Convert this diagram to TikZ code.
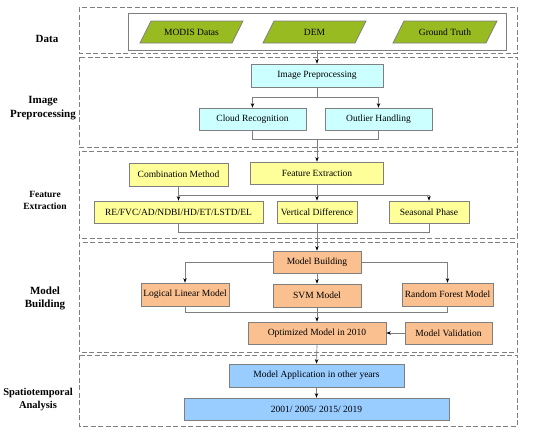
\documentclass[tikz,border=0pt]{standalone}
\usepackage{fontspec}
\setmainfont{Liberation Serif}
\usetikzlibrary{arrows.meta}
\definecolor{bgreen}{HTML}{99BB22}
\definecolor{bcyan}{HTML}{CCFFFF}
\definecolor{byellow}{HTML}{FFFF99}
\definecolor{borange}{HTML}{FAC090}
\definecolor{bblue}{HTML}{99CCFF}
\definecolor{lgray}{HTML}{7F7F7F}
\tikzset{
  box/.style={draw=lgray, line width=0.7pt, inner sep=0pt, font=\fontsize{9.5}{11}\selectfont, align=center},
  cyanbox/.style={box, fill=bcyan},
  yelbox/.style={box, fill=byellow},
  orbox/.style={box, fill=borange},
  bluebox/.style={box, fill=bblue},
  para/.style={draw=lgray, line width=0.7pt, fill=bgreen},
  ptext/.style={inner sep=0pt, font=\fontsize{9.5}{11}\selectfont},
  stage/.style={draw=lgray, line width=0.9pt, dash pattern=on 5pt off 2.5pt},
  lab/.style={font=\bfseries\fontsize{11}{13}\selectfont, align=center, inner sep=0pt},
  conn/.style={draw=lgray, line width=0.7pt},
  arr/.style={conn, -{Stealth[length=4.5pt,width=3.5pt,black]}}
}
\begin{document}
\begin{tikzpicture}[x=1pt,y=-1pt]
\useasboundingbox (0,0) rectangle (550,431);
% stage frames
\draw[stage] (79,7) rectangle (517,53);
\draw[stage] (79,57) rectangle (517,147);
\draw[stage] (79,151) rectangle (517,238);
\draw[stage] (79,242) rectangle (517,352);
\draw[stage] (79,355) rectangle (517,426);
% labels
\node[lab] (lData) at (47,39) {Data};
\node[lab] (lIP) at (43,108) {Image\\[1pt]Preprocessing};
\node[lab, font=\bfseries\fontsize{9.5}{12}\selectfont] (lFE) at (45,200) {Feature\\Extraction};
\node[lab] (lMB) at (45,298) {Model\\Building};
\node[lab, font=\bfseries\fontsize{10.5}{13}\selectfont] (lSA) at (38,399) {Spatiotemporal\\Analysis};
% data
\node[draw=lgray, line width=0.7pt, minimum width=378, minimum height=37, inner sep=0pt] (dbox) at (317,31.5) {};
\draw[para] (151,21) -- (243,21) -- (232,43) -- (140,43) -- cycle;
\draw[para] (274,21) -- (366,21) -- (355,43) -- (263,43) -- cycle;
\draw[para] (404,21) -- (497,21) -- (486,43) -- (393,43) -- cycle;
\node[ptext] (modis) at (191.5,32) {MODIS Datas};
\node[ptext] (dem) at (314.5,32) {DEM};
\node[ptext] (gt) at (445,32) {Ground Truth};
% image preprocessing
\node[cyanbox, minimum width=132, minimum height=23] (ip) at (317,75.5) {Image Preprocessing};
\node[cyanbox, minimum width=107, minimum height=22] (cr) at (252.5,119) {Cloud Recognition};
\node[cyanbox, minimum width=107, minimum height=22] (oh) at (378.5,119) {Outlier Handling};
% feature extraction
\node[yelbox, minimum width=99, minimum height=23] (cm) at (178.5,174.5) {Combination Method};
\node[yelbox, minimum width=133, minimum height=22] (fe) at (317,173) {Feature Extraction};
\node[yelbox, minimum width=169, minimum height=22] (re) at (178.5,212) {RE/FVC/AD/NDBI/HD/ET/LSTD/EL};
\node[yelbox, minimum width=80, minimum height=22] (vd) at (317,212) {Vertical Difference};
\node[yelbox, minimum width=80, minimum height=22] (sp) at (429,212) {Seasonal Phase};
% model building
\node[orbox, minimum width=88, minimum height=22] (mb) at (317,262) {Model Building};
\node[orbox, minimum width=88, minimum height=23] (llm) at (185,294.5) {Logical Linear Model};
\node[orbox, minimum width=88, minimum height=23] (svm) at (317,295.5) {SVM Model};
\node[orbox, minimum width=91, minimum height=23] (rf) at (447.5,294.5) {Random Forest Model};
\node[orbox, minimum width=138, minimum height=22] (opt) at (317,333) {Optimized Model in 2010};
\node[orbox, minimum width=87, minimum height=22] (mv) at (448.5,333) {Model Validation};
% spatiotemporal
\node[bluebox, minimum width=175, minimum height=23] (ma) at (316.5,375.5) {Model Application in other years};
\node[bluebox, minimum width=265, minimum height=22] (yr) at (316.5,409) {2001/ 2005/ 2015/ 2019};
% junction coordinates
\coordinate (j1) at (317,97);
\coordinate (j2) at (317,139);
\coordinate (j3) at (317,195);
\coordinate (j4) at (317,232);
\coordinate (j5) at (317,312);
% connectors
\draw[arr] (dbox.south -| ip.north) -- (ip.north);
\draw[conn] (ip.south) -- (j1);
\draw[arr] (j1) -| (cr.north);
\draw[arr] (j1) -| (oh.north);
\draw[conn] (cr.south) |- (j2);
\draw[conn] (oh.south) |- (j2);
\draw[arr] (j2) -- (fe.north);
\draw[conn] (fe.south) -- (j3);
\draw[conn] (cm.south) -- (cm.south |- j3);
\draw[arr] (j3) -| (re.north);
\draw[arr] (j3) -- (vd.north);
\draw[arr] (j3) -| (sp.north);
\draw[conn] (re.south) |- (j4);
\draw[conn] (sp.south) |- (j4);
\draw[conn] (vd.south) -- (j4);
\draw[arr] (j4) -- (mb.north);
\draw[arr] (mb.west) -| (llm.north);
\draw[arr] (mb.east) -| (rf.north);
\draw[arr] (mb.south) -- (svm.north);
\draw[conn] (llm.south) |- (j5);
\draw[conn] (rf.south) |- (j5);
\draw[conn] (svm.south) -- (j5);
\draw[arr] (j5) -- (opt.north);
\draw[arr] (mv.west) -- (opt.east);
\draw[arr] (opt.south) -- (ma.north);
\draw[arr] (ma.south) -- (yr.north);
\end{tikzpicture}
\end{document}
